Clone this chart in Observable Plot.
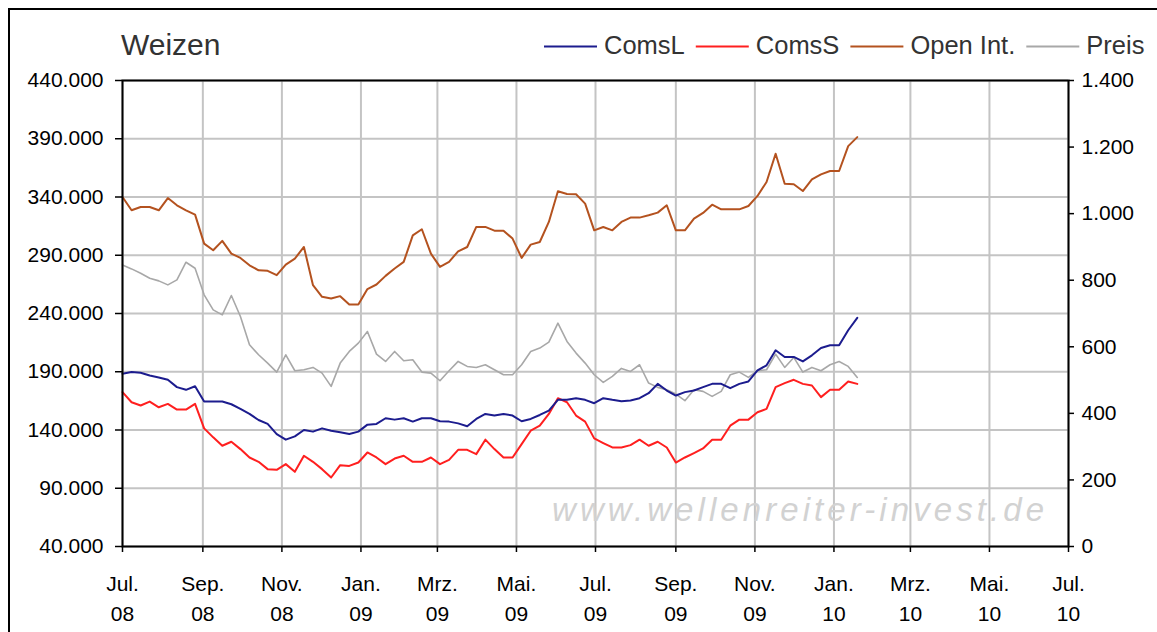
<!DOCTYPE html>
<html>
<head>
<meta charset="utf-8">
<script src="https://cdn.jsdelivr.net/npm/d3@7"></script>
<script src="https://cdn.jsdelivr.net/npm/@observablehq/plot@0.6"></script>
<style>
  html, body { margin: 0; padding: 0; background: #fff; overflow: hidden; }
  #wrap { position: relative; width: 1157px; height: 632px; overflow: hidden; background: #fff; }
  #border { position: absolute; left: 8px; top: 8px; width: 1180px; height: 660px; border: 2px solid #000; box-sizing: border-box; pointer-events: none; }
  #wrap svg { position: absolute; left: 0; top: 0; }
</style>
</head>
<body>
<div id="wrap"><div id="border"></div></div>
<script>
// ---------------- data ----------------
const chartTitle = "Weizen";
const watermark = "www.wellenreiter-invest.de";
const seriesNames = ["ComsL", "ComsS", "Open Int.", "Preis"];
const seriesColors = ["#1c1c8e", "#ff1f1f", "#b4521f", "#a8a8a8"];
const monthAbbr = ["Jan.", "Feb.", "Mrz.", "Apr.", "Mai.", "Jun.", "Jul.", "Aug.", "Sep.", "Okt.", "Nov.", "Dez."];
const firstReport = "2008-07-01"; // weekly COT reports (Tuesdays)
const xStart = "2008-07-01";
const xEnd = "2010-07-01";
const leftTicks = [40000, 90000, 140000, 190000, 240000, 290000, 340000, 390000, 440000];
const rightTicks = [0, 200, 400, 600, 800, 1000, 1200, 1400];

// values in thousands of contracts (left axis)
const comsL = [188.3,189.7,189.1,186.8,185.1,183.1,176.8,174.5,177.6,164.4,164.4,164.4,162.1,158.1,153.8,148.6,145.2,136.5,131.7,134.5,
  140.0,138.6,141.4,139.4,138.0,136.5,138.6,144.6,145.2,150.1,148.9,150.1,147.2,150.1,150.1,147.5,147.2,145.7,143.2,149.5,
  153.8,152.4,153.8,152.4,147.5,149.5,152.9,156.7,165.9,165.9,167.3,165.9,163.0,167.3,165.9,164.7,165.3,167.3,171.6,179.6,
  173.9,169.6,172.5,173.9,176.8,179.6,179.6,175.9,179.6,181.7,191.2,195.5,208.4,202.7,202.7,198.9,204.1,210.4,212.7,212.7,
  225.6,236.3];
const comsS = [172.5,163.8,161.0,164.4,159.5,162.4,157.5,157.5,162.4,141.4,133.7,126.5,129.9,123.6,116.4,112.7,106.4,105.8,110.7,104.1,
  117.9,112.7,106.4,99.2,109.8,109.2,112.1,120.7,116.4,110.7,115.5,117.9,112.7,112.7,116.4,110.7,114.4,123.0,123.0,119.3,
  131.7,123.6,116.4,116.4,127.9,139.4,143.7,153.8,167.3,163.8,152.4,147.2,132.8,128.8,125.0,125.0,127.0,131.7,126.5,129.9,
  125.0,112.1,116.4,120.2,124.2,131.7,131.7,143.7,148.9,148.9,155.2,158.1,176.8,180.2,183.1,179.6,178.2,168.2,174.5,174.5,
  181.7,179.6];
const openInt = [340.0,328.6,331.4,331.4,328.6,339.1,332.9,328.6,324.9,300.0,294.3,302.3,291.4,287.7,281.4,277.1,276.6,272.9,282.0,287.1,
  297.1,264.3,254.3,252.9,254.9,247.7,247.7,261.0,264.9,272.3,278.6,284.3,307.1,312.3,291.4,280.0,284.3,293.4,297.1,314.3,
  314.3,311.1,311.1,304.3,287.7,299.1,301.4,318.6,344.9,342.6,342.3,334.3,311.4,314.3,311.4,318.6,322.3,322.3,324.3,326.6,
  332.9,311.4,311.4,321.4,326.3,333.4,329.4,329.4,329.4,332.3,340.9,352.9,377.1,351.4,350.9,345.1,355.1,359.4,362.3,362.3,
  383.7,391.4];
// price (right axis)
const preis = [846,834,821,806,798,786,801,854,836,756,711,696,754,691,606,576,551,524,576,528,
  531,538,521,481,551,586,611,646,578,556,586,558,561,524,521,498,528,556,541,538,
  546,531,516,516,546,586,596,614,671,616,581,551,516,493,511,535,526,546,491,478,
  471,458,438,471,466,451,466,516,524,508,528,531,578,538,568,524,538,528,546,556,
  541,508];

// ---------------- helpers ----------------
const yMin = leftTicks[0], yMax = leftTicks[leftTicks.length - 1];
const rMin = rightTicks[0], rMax = rightTicks[rightTicks.length - 1];
const toLeft = v => yMin + (v - rMin) / (rMax - rMin) * (yMax - yMin);
const fromLeft = v => rMin + (v - yMin) / (yMax - yMin) * (rMax - rMin);
const fmtDE = d3.formatLocale({decimal: ",", thousands: ".", grouping: [3], currency: ["", "€"]}).format(",d");

const parse = d3.utcParse("%Y-%m-%d");
const dates = comsL.map((_, i) => d3.utcWeek.offset(parse(firstReport), i));
const mk = (arr, f) => arr.map((v, i) => ({date: dates[i], v: f(v)}));
const rowsL = mk(comsL, v => v * 1000);
const rowsS = mk(comsS, v => v * 1000);
const rowsO = mk(openInt, v => v * 1000);
const rowsP = mk(preis, v => toLeft(v));

const x0 = parse(xStart), x1 = parse(xEnd);
const xTicks = d3.utcMonth.every(2).range(x0, d3.utcDay.offset(x1, 1));
const rightTicksL = rightTicks.map(toLeft);

const font = "'Liberation Sans', Arial, Helvetica, sans-serif";

const chart = Plot.plot({
  width: 1157,
  height: 632,
  marginLeft: 122,
  marginRight: 89,
  marginTop: 80,
  marginBottom: 86,
  style: {fontFamily: font, fontSize: "21px", background: "transparent", color: "#000", overflow: "visible"},
  x: {type: "utc", domain: [x0, x1]},
  y: {domain: [yMin, yMax]},
  marks: [
    Plot.gridY(leftTicks, {stroke: "#c4c4c4", strokeOpacity: 1, strokeWidth: 2}),
    Plot.gridX(xTicks, {stroke: "#c4c4c4", strokeOpacity: 1, strokeWidth: 2}),
    Plot.line(rowsP, {x: "date", y: "v", stroke: seriesColors[3], strokeWidth: 1.6}),
    Plot.line(rowsO, {x: "date", y: "v", stroke: seriesColors[2], strokeWidth: 2}),
    Plot.line(rowsS, {x: "date", y: "v", stroke: seriesColors[1], strokeWidth: 2}),
    Plot.line(rowsL, {x: "date", y: "v", stroke: seriesColors[0], strokeWidth: 2}),
    Plot.frame({stroke: "#000", strokeWidth: 2}),
    Plot.axisY(leftTicks, {anchor: "left", tickFormat: fmtDE, tickSize: 7, tickPadding: 12, fontSize: 21, label: null, stroke: "#000", strokeWidth: 1.5}),
    Plot.axisY(rightTicksL, {anchor: "right", tickFormat: d => fmtDE(Math.round(fromLeft(d))), tickSize: 5, tickPadding: 8, fontSize: 21, label: null, stroke: "#000", strokeWidth: 1.5}),
    Plot.axisX(xTicks, {anchor: "bottom", tickFormat: d => monthAbbr[d.getUTCMonth()] + "\n" + String(d.getUTCFullYear()).slice(2),
      tickSize: 6, tickPadding: 17, lineHeight: 1.43, fontSize: 21, label: null, stroke: "#000", strokeWidth: 1.5})
  ]
});

document.getElementById("wrap").appendChild(chart);

// ---------------- title, legend, watermark ----------------
const svg = d3.select(chart);
const g = svg.append("g").attr("text-anchor", "start").attr("font-family", font);
g.append("text")
  .attr("x", 121).attr("y", 55).attr("text-anchor", "start")
  .attr("font-size", 30).attr("fill", "#333")
  .text(chartTitle);

g.append("text")
  .attr("x", 552).attr("y", 521).attr("text-anchor", "start")
  .attr("font-size", 33).attr("font-style", "italic")
  .attr("fill", "#d2d2d2")
  .attr("textLength", 492).attr("lengthAdjust", "spacing")
  .text(watermark);

let lx = 544;
seriesNames.forEach((name, i) => {
  g.append("line").attr("x1", lx).attr("x2", lx + 53).attr("y1", 46.5).attr("y2", 46.5)
    .attr("stroke", seriesColors[i]).attr("stroke-width", 2.2);
  const t = g.append("text").attr("x", lx + 60).attr("y", 54).attr("text-anchor", "start")
    .attr("font-size", 25.5).attr("fill", "#333").text(name);
  lx = lx + 60 + t.node().getComputedTextLength() + 11;
});
</script>
</body>
</html>
